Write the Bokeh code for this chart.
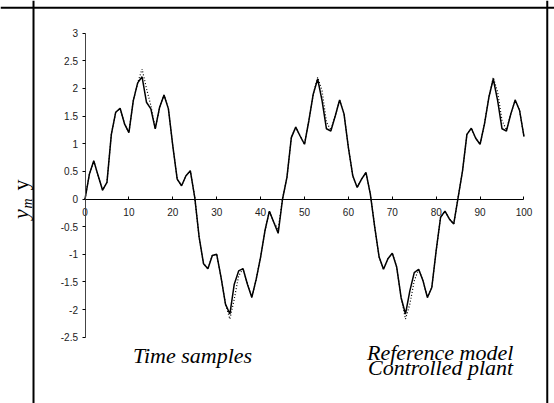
from bokeh.plotting import figure
from bokeh.models import LinearAxis, FixedTicker, NumeralTickFormatter, Span, Label
from bokeh.embed import file_html
from bokeh.resources import INLINE
import math

# ---- data ----
samples = list(range(0, 101))
plant = [0.00, 0.45, 0.69, 0.42, 0.16, 0.30, 1.17, 1.57, 1.64, 1.36,
         1.20, 1.78, 2.10, 2.21, 1.75, 1.63, 1.27, 1.66, 1.88, 1.63,
         0.96, 0.36, 0.24, 0.42, 0.51, 0.03, -0.69, -1.17, -1.26, -1.02,
         -1.00, -1.42, -1.90, -2.08, -1.54, -1.30, -1.26, -1.54, -1.78, -1.45,
         -1.05, -0.57, -0.22, -0.42, -0.62, 0.00, 0.39, 1.11, 1.30, 1.14,
         0.99, 1.42, 1.90, 2.17, 1.78, 1.27, 1.23, 1.50, 1.79, 1.54,
         0.93, 0.42, 0.21, 0.36, 0.48, 0.09, -0.51, -1.05, -1.27, -1.08,
         -0.98, -1.23, -1.78, -2.08, -1.66, -1.33, -1.27, -1.48, -1.78, -1.60,
         -0.93, -0.33, -0.22, -0.36, -0.45, 0.03, 0.51, 1.17, 1.28, 1.10,
         0.99, 1.36, 1.84, 2.17, 1.78, 1.27, 1.23, 1.54, 1.79, 1.60,
         1.13]
reference = [0.00, 0.45, 0.69, 0.42, 0.16, 0.30, 1.17, 1.57, 1.64, 1.36,
             1.20, 1.78, 2.10, 2.35, 2.00, 1.69, 1.27, 1.66, 1.88, 1.63,
             0.96, 0.36, 0.24, 0.42, 0.51, 0.03, -0.69, -1.17, -1.26, -1.02,
             -1.00, -1.42, -1.90, -2.17, -1.81, -1.39, -1.26, -1.54, -1.78, -1.45,
             -1.05, -0.57, -0.22, -0.42, -0.55, 0.00, 0.39, 1.11, 1.30, 1.14,
             0.99, 1.42, 1.90, 2.20, 1.96, 1.39, 1.25, 1.50, 1.79, 1.54,
             0.93, 0.42, 0.21, 0.36, 0.48, 0.09, -0.51, -1.05, -1.27, -1.08,
             -0.98, -1.23, -1.78, -2.17, -1.90, -1.48, -1.27, -1.48, -1.78, -1.60,
             -0.93, -0.33, -0.22, -0.36, -0.45, 0.03, 0.51, 1.17, 1.28, 1.10,
             0.99, 1.36, 1.84, 2.20, 1.93, 1.42, 1.25, 1.54, 1.79, 1.60,
             1.13]
x_ticks = [0, 10, 20, 30, 40, 50, 60, 70, 80, 90, 100]
y_ticks = [-2.5, -2, -1.5, -1, -0.5, 0, 0.5, 1, 1.5, 2, 2.5, 3]
x_title = "Time samples"
legend_labels = ["Reference model", "Controlled plant"]

p = figure(width=554, height=403, x_range=(-19.25, 106.95), y_range=(-3.698, 3.590),
           min_border=0, toolbar_location=None, output_backend="svg",
           x_axis_location=None, y_axis_location=None)
p.outline_line_color = None
p.xgrid.visible = False
p.ygrid.visible = False
p.background_fill_color = "white"
p.border_fill_color = "white"

# outer box (left, right, top)
for loc, dim in [(-11.73, "height"), (105.3, "height"), (3.46, "width")]:
    p.add_layout(Span(location=loc, dimension=dim, line_color="black", line_width=2))

xaxis = LinearAxis(fixed_location=0, bounds=(0, 100), ticker=FixedTicker(ticks=x_ticks))
xaxis.major_tick_in = 3
xaxis.major_tick_out = 0
xaxis.minor_tick_line_color = None
xaxis.major_label_text_font = "Liberation Sans"
xaxis.major_label_text_font_size = "10px"
xaxis.major_label_text_color = "#222222"
xaxis.major_label_standoff = 9
xaxis.axis_line_color = "black"
p.add_layout(xaxis, "below")

yaxis = LinearAxis(fixed_location=0, bounds=(-2.5, 3), ticker=FixedTicker(ticks=y_ticks),
                   formatter=NumeralTickFormatter(format="0.[0]"))
yaxis.major_tick_in = 0
yaxis.major_tick_out = 3
yaxis.minor_tick_line_color = None
yaxis.major_label_text_font = "Liberation Sans"
yaxis.major_label_text_font_size = "10px"
yaxis.major_label_text_color = "#222222"
yaxis.major_label_standoff = 4
yaxis.axis_line_color = "#444444"
p.add_layout(yaxis, "left")

p.line(samples, reference, line_color="black", line_width=1.2, line_dash="1 2")
p.line(samples, plant, line_color="black", line_width=1.5)

serif = "Liberation Serif"
common = dict(text_font=serif, text_font_style="italic", text_font_size="22px",
              text_align="center", text_baseline="alphabetic", text_color="black")
p.add_layout(Label(x=24.5, y=-2.83, text=x_title, **common))
p.add_layout(Label(x=80.9, y=-2.775, text=legend_labels[0], **common))
p.add_layout(Label(x=81.0, y=-3.05, text=legend_labels[1], **common))

# rotated y label: y_m y
ang = math.pi / 2
p.add_layout(Label(x=-14.6, y=-0.36, text="y", text_font=serif, text_font_style="italic",
                   text_font_size="22px", angle=ang, text_align="left",
                   text_baseline="alphabetic", text_color="black"))
p.add_layout(Label(x=-13.0, y=-0.17, text="m", text_font=serif, text_font_style="italic",
                   text_font_size="14px", angle=ang, text_align="left",
                   text_baseline="alphabetic", text_color="black"))
p.add_layout(Label(x=-14.6, y=0.155, text="y", text_font=serif,
                   text_font_size="22px", angle=ang, text_align="left",
                   text_baseline="alphabetic", text_color="black"))

open("out.html", "w").write(file_html(p, INLINE))
